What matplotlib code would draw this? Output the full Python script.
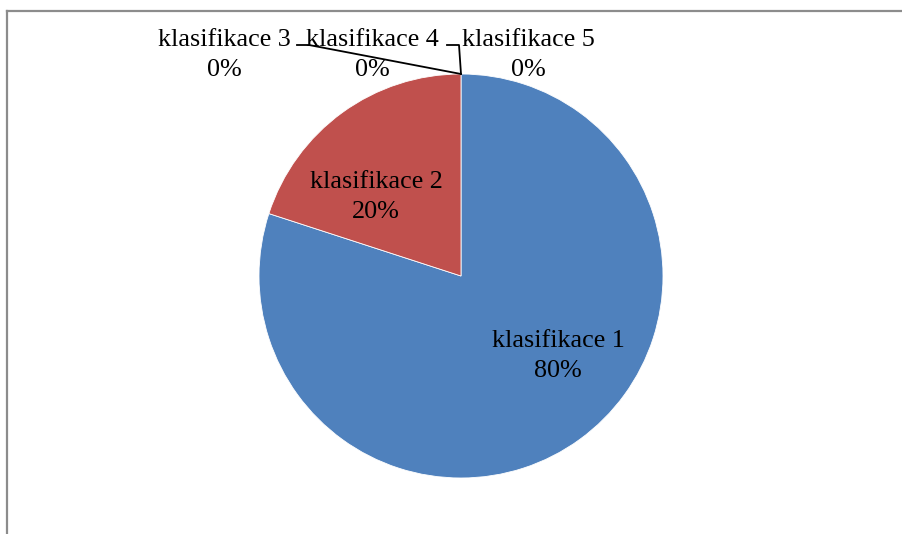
import matplotlib
matplotlib.use("Agg")
import matplotlib.pyplot as plt
from matplotlib.lines import Line2D

categories = ["klasifikace 1", "klasifikace 2", "klasifikace 3", "klasifikace 4", "klasifikace 5"]
values = [80, 20, 0, 0, 0]
pct_labels = ["80%", "20%", "0%", "0%", "0%"]
colors = ["#4F81BD", "#C0504D", "#9BBB59", "#8064A2", "#4BACC6"]

W, H = 902, 534
fig = plt.figure(figsize=(W / 100, H / 100), dpi=100)
ax = fig.add_axes([0, 0, 1, 1])

cx, cy, r = 461, H - 276, 202
nz_vals = [v for v in values if v > 0]
nz_cols = [c for v, c in zip(values, colors) if v > 0]
ax.pie(nz_vals, colors=nz_cols, startangle=90, counterclock=False,
       center=(cx, cy), radius=r, frame=True,
       wedgeprops=dict(edgecolor="white", linewidth=0.6))
ax.set_xlim(0, W)
ax.set_ylim(0, H)
ax.axis("off")

font = dict(family="Liberation Serif", fontsize=18.8, color="black",
            ha="center", va="center", linespacing=1.5)
label_pos = [(558, 356), (376, 197), (224, 55), (372, 55), (528, 55)]
for cat, p, (x, y) in zip(categories, pct_labels, label_pos):
    ax.text(x, H - y, f"{cat}\n{p}", **font)

# leader lines for zero slices
top = (cx, cy + r)
ax.plot([297, 309, top[0]], [H - 45, H - 45, top[1]], color="black", lw=1.3)
ax.plot([447, 459, top[0]], [H - 45, H - 45, top[1]], color="black", lw=1.3)

# chart frame (top and left edges)
fig.add_artist(Line2D([7 / W, 1], [1 - 11 / H, 1 - 11 / H], color="#8c8c8c", lw=1.6))
fig.add_artist(Line2D([7 / W, 7 / W], [1 - 11 / H, 0], color="#8c8c8c", lw=1.6))

fig.savefig("out.png", dpi=100)
